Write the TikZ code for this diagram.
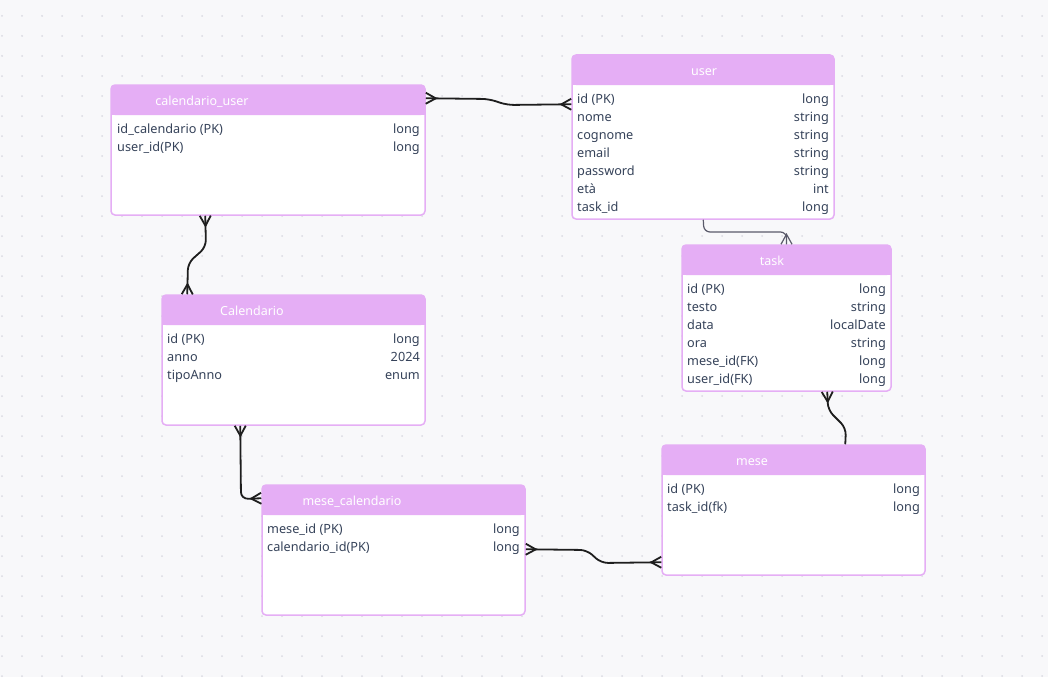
\documentclass[tikz,border=0pt]{standalone}
\usepackage{fontspec}
\setmainfont{Noto Sans}
\usepackage{tikz}
\usetikzlibrary{arrows.meta}
\definecolor{bgc}{HTML}{F8F8FA}
\definecolor{dotc}{HTML}{DADAE2}
\definecolor{hdrc}{HTML}{E5AEF5}
\definecolor{txtc}{HTML}{36435A}
\definecolor{linec}{HTML}{1E1E1E}
\definecolor{thinc}{HTML}{5A5A6A}

\pgfdeclarearrow{
  name = Crow,
  parameters = {\the\pgfarrowlength,\the\pgfarrowwidth},
  setup code = {
    \pgfarrowssettipend{0pt}
    \pgfarrowssetlineend{0pt}
    \pgfarrowssetbackend{-\pgfarrowlength}
    \pgfarrowssetvisualbackend{-\pgfarrowlength}
    \pgfarrowssavethe\pgfarrowlength
    \pgfarrowssavethe\pgfarrowwidth
  },
  drawing code = {
    \pgfsetdash{}{0pt}
    \pgfpathmoveto{\pgfqpoint{0pt}{0.5\pgfarrowwidth}}
    \pgfpathlineto{\pgfqpoint{-\pgfarrowlength}{0pt}}
    \pgfpathlineto{\pgfqpoint{0pt}{-0.5\pgfarrowwidth}}
    \pgfusepathqstroke
  },
  defaults = {length = 10pt, width = 11pt}
}

\begin{document}
\begin{tikzpicture}[x=1pt, y=-1pt,
    tbl/.style={draw=hdrc, fill=white, line width=1.5pt, rounded corners=4pt, inner sep=0pt},
    hdr/.style={fill=hdrc, rounded corners=4pt, inner sep=0pt, minimum height=30pt},
    ttl/.style={anchor=base, inner sep=0pt, text=white, font=\fontsize{12.5}{14}\selectfont},
    fld/.style={anchor=base west, inner sep=0pt, text=txtc, font=\fontsize{12.7}{15}\selectfont},
    typ/.style={anchor=base east, inner sep=0pt, text=txtc, font=\fontsize{12.7}{15}\selectfont},
    rel/.style={draw=linec, line width=1.8pt, rounded corners=7pt},
    thin/.style={draw=thinc, line width=1.2pt, rounded corners=6pt}]

    % background and dot grid
    \useasboundingbox (0,0) rectangle (1048,677);
    \fill[bgc] (0,0) rectangle (1048,677);
    \foreach \i in {0,...,52}
        \foreach \j in {0,...,33}
            \fill[dotc] (2+20*\i,16+20*\j) circle (1pt);

    % tables
    \node[tbl, minimum width=314pt, minimum height=130pt] (cu) at (268,150) {};
    \node[hdr, minimum width=314pt] (cuH) at (268,100) {};
    \fill[hdrc] (cuH.west) rectangle (cuH.south east);
    \node[ttl] (cuT) at (202,105.5) {calendario\_user};

    \node[tbl, minimum width=262pt, minimum height=164pt] (user) at (703,137) {};
    \node[hdr, minimum width=262pt] (userH) at (703,70) {};
    \fill[hdrc] (userH.west) rectangle (userH.south east);
    \node[ttl] (userT) at (704,75.5) {user};

    \node[tbl, minimum width=209pt, minimum height=146pt] (task) at (786.5,318) {};
    \node[hdr, minimum width=209pt] (taskH) at (786.5,260) {};
    \fill[hdrc] (taskH.west) rectangle (taskH.south east);
    \node[ttl] (taskT) at (772,265.5) {task};

    \node[tbl, minimum width=263pt, minimum height=130pt] (cal) at (293.5,360) {};
    \node[hdr, minimum width=263pt] (calH) at (293.5,310) {};
    \fill[hdrc] (calH.west) rectangle (calH.south east);
    \node[ttl] (calT) at (252,315.5) {Calendario};

    \node[tbl, minimum width=263pt, minimum height=130pt] (mc) at (393.5,550) {};
    \node[hdr, minimum width=263pt] (mcH) at (393.5,500) {};
    \fill[hdrc] (mcH.west) rectangle (mcH.south east);
    \node[ttl] (mcT) at (352,505.5) {mese\_calendario};

    \node[tbl, minimum width=263pt, minimum height=130pt] (mese) at (793.5,510) {};
    \node[hdr, minimum width=263pt] (meseH) at (793.5,460) {};
    \fill[hdrc] (meseH.west) rectangle (meseH.south east);
    \node[ttl] (meseT) at (752,465.5) {mese};

    % fields
    \foreach \f/\t [count=\k] in {id\_calendario (PK)/long, user\_id(PK)/long} {
        \node[fld] (cu-f\k) at (117,115.5+18*\k) {\f};
        \node[typ] (cu-t\k) at (420,115.5+18*\k) {\t};
    }
    \foreach \f/\t [count=\k] in {id (PK)/long, nome/string, cognome/string, email/string,
            password/string, età/int, task\_id/long} {
        \node[fld] (user-f\k) at (577,85.5+18*\k) {\f};
        \node[typ] (user-t\k) at (829,85.5+18*\k) {\t};
    }
    \foreach \f/\t [count=\k] in {id (PK)/long, testo/string, data/localDate, ora/string,
            mese\_id(FK)/long, user\_id(FK)/long} {
        \node[fld] (task-f\k) at (687,275.5+18*\k) {\f};
        \node[typ] (task-t\k) at (886,275.5+18*\k) {\t};
    }
    \foreach \f/\t [count=\k] in {id (PK)/long, anno/2024, tipoAnno/enum} {
        \node[fld] (cal-f\k) at (167,325.5+18*\k) {\f};
        \node[typ] (cal-t\k) at (420,325.5+18*\k) {\t};
    }
    \foreach \f/\t [count=\k] in {mese\_id (PK)/long, calendario\_id(PK)/long} {
        \node[fld] (mc-f\k) at (267,515.5+18*\k) {\f};
        \node[typ] (mc-t\k) at (520,515.5+18*\k) {\t};
    }
    \foreach \f/\t [count=\k] in {id (PK)/long, task\_id(fk)/long} {
        \node[fld] (mese-f\k) at (667,475.5+18*\k) {\f};
        \node[typ] (mese-t\k) at (920,475.5+18*\k) {\t};
    }

    % relations
    \draw[rel, Crow-Crow] ([yshift=-14pt]cu.north east) -- (489,99) -- (507,105) -- ([yshift=-50pt]user.north west);
    \draw[rel, Crow-Crow] ([xshift=95pt]cu.south west) -- (206,247) -- (188,263) -- ([xshift=26pt]cal.north west);
    \draw[thin, -Crow] ([xshift=132pt]user.south west) -- (704,232) -- (786.5,232) -- (task.north);
    \draw[rel, Crow-] ([xshift=146pt]task.south west) -- (828,410) -- (846,428) -- ([xshift=184pt]mese.north west);
    \draw[rel, Crow-Crow] ([xshift=79pt]cal.south west) -- (241,499) -- ([yshift=-14pt]mc.north west);
    \draw[rel, Crow-Crow] ([yshift=-65pt]mc.north east) -- (587,550) -- (601,563) -- ([yshift=-118pt]mese.north west);
\end{tikzpicture}
\end{document}
